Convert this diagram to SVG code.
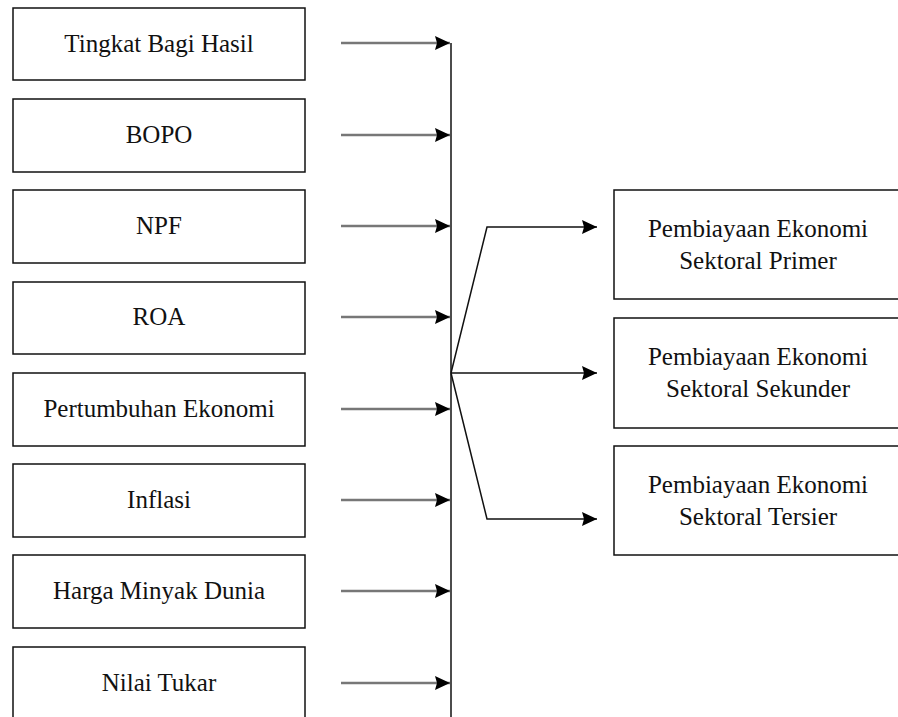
<svg xmlns="http://www.w3.org/2000/svg" width="898" height="717" viewBox="0 0 898 717">
<style>
.box{fill:#fff;stroke:#111;stroke-width:1.5}
.t{font-family:'Liberation Serif','Times New Roman',Times,serif;font-size:25px;fill:#111;text-anchor:middle}
.in{stroke:#777;stroke-width:2.5;fill:none}
.out{stroke:#111;stroke-width:1.5;fill:none}
</style>
<defs>
<marker id="ah" viewBox="0 0 15 14" refX="15" refY="7" markerWidth="15" markerHeight="14" markerUnits="userSpaceOnUse" orient="auto">
<path d="M0,0 L15,7 L0,14 L2,7 Z" fill="#000"/>
</marker>
</defs>
<rect width="898" height="717" fill="#fff"/>
<g id="n1"><rect class="box" x="13" y="8" width="292" height="72"/><text class="t" x="159" y="52">Tingkat Bagi Hasil</text></g>
<g id="n2"><rect class="box" x="13" y="99" width="292" height="73"/><text class="t" x="159" y="143">BOPO</text></g>
<g id="n3"><rect class="box" x="13" y="190" width="292" height="73"/><text class="t" x="159" y="234">NPF</text></g>
<g id="n4"><rect class="box" x="13" y="282" width="292" height="72"/><text class="t" x="159" y="325">ROA</text></g>
<g id="n5"><rect class="box" x="13" y="373" width="292" height="73"/><text class="t" x="159" y="417">Pertumbuhan Ekonomi</text></g>
<g id="n6"><rect class="box" x="13" y="464" width="292" height="73"/><text class="t" x="159" y="508">Inflasi</text></g>
<g id="n7"><rect class="box" x="13" y="555" width="292" height="73"/><text class="t" x="159" y="599">Harga Minyak Dunia</text></g>
<g id="n8"><rect class="box" x="13" y="647" width="292" height="80"/><text class="t" x="159" y="691">Nilai Tukar</text></g>
<g id="o1"><rect class="box" x="614" y="190" width="300" height="109"/><text class="t" x="758" y="237">Pembiayaan Ekonomi</text><text class="t" x="758" y="269">Sektoral Primer</text></g>
<g id="o2"><rect class="box" x="614" y="318" width="300" height="110"/><text class="t" x="758" y="365">Pembiayaan Ekonomi</text><text class="t" x="758" y="397">Sektoral Sekunder</text></g>
<g id="o3"><rect class="box" x="614" y="446" width="300" height="109"/><text class="t" x="758" y="493">Pembiayaan Ekonomi</text><text class="t" x="758" y="525">Sektoral Tersier</text></g>
<g id="connectors">
<line x1="451" y1="43" x2="451" y2="717" stroke="#111" stroke-width="1.5"/>
<line class="in" x1="341" y1="43" x2="450" y2="43" marker-end="url(#ah)"/>
<line class="in" x1="341" y1="135" x2="450" y2="135" marker-end="url(#ah)"/>
<line class="in" x1="341" y1="226" x2="450" y2="226" marker-end="url(#ah)"/>
<line class="in" x1="341" y1="317" x2="450" y2="317" marker-end="url(#ah)"/>
<line class="in" x1="341" y1="409" x2="450" y2="409" marker-end="url(#ah)"/>
<line class="in" x1="341" y1="500" x2="450" y2="500" marker-end="url(#ah)"/>
<line class="in" x1="341" y1="591" x2="450" y2="591" marker-end="url(#ah)"/>
<line class="in" x1="341" y1="683" x2="450" y2="683" marker-end="url(#ah)"/>
<polyline class="out" points="451,373 487,227 597,227" marker-end="url(#ah)"/>
<polyline class="out" points="451,373 597,373" marker-end="url(#ah)"/>
<polyline class="out" points="451,373 487,519 597,519" marker-end="url(#ah)"/>
</g>
</svg>
